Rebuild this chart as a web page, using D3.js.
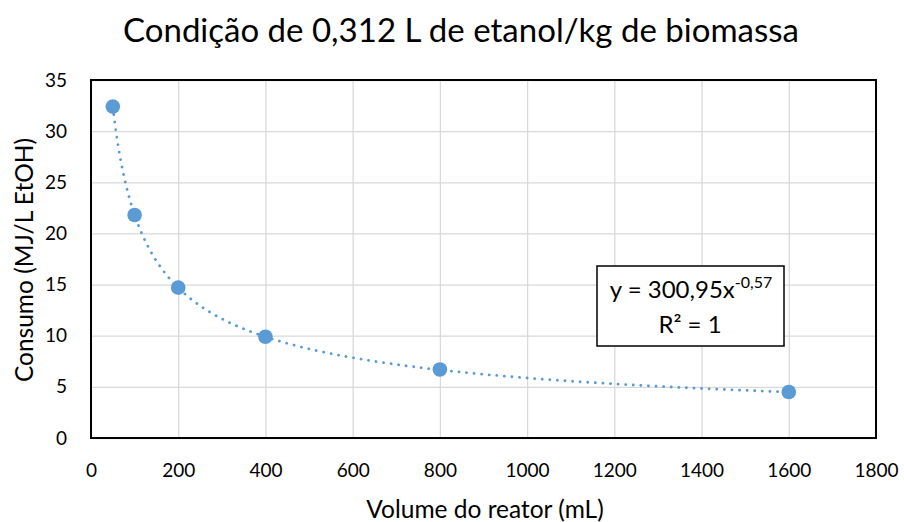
<!DOCTYPE html>
<meta charset="utf-8">
<style>
  body { margin: 0; background: #fff; }
  text { font-family: Lato, "Open Sans", sans-serif; fill: #000; }
</style>
<body>
<div id="chart"></div>
<script src="https://d3js.org/d3.v7.min.js"></script>
<script>
  // data
  var volumes = [50, 100, 200, 400, 800, 1600];
  var consumo = [32.4, 21.8, 14.7, 9.9, 6.7, 4.5];
  var xTicks = [0, 200, 400, 600, 800, 1000, 1200, 1400, 1600, 1800];
  var yTicks = [0, 5, 10, 15, 20, 25, 30, 35];
  // power trendline shown in the label: y = a * x^b
  var trendA = 300.95, trendB = -0.57;

  var W = 904, H = 522;
  var margin = {top: 80, right: 28, bottom: 84, left: 91},
      width = W - margin.left - margin.right,
      height = H - margin.top - margin.bottom;

  var svg = d3.select("#chart").append("svg")
    .attr("width", W).attr("height", H);

  var g = svg.append("g")
    .attr("transform", "translate(" + margin.left + "," + margin.top + ")");

  var x = d3.scaleLinear().domain([0, 1800]).range([0, width]);
  var y = d3.scaleLinear().domain([0, 35]).range([height, 0]);

  // gridlines
  g.append("g")
    .call(d3.axisBottom(x).tickValues(xTicks).tickSize(height).tickFormat(""))
    .call(function(s) {
      s.select(".domain").remove();
      s.selectAll("line").attr("stroke", "#d9d9d9").attr("stroke-width", 1.3);
    });
  g.append("g")
    .call(d3.axisLeft(y).tickValues(yTicks).tickSize(-width).tickFormat(""))
    .call(function(s) {
      s.select(".domain").remove();
      s.selectAll("line").attr("stroke", "#d9d9d9").attr("stroke-width", 1.3);
    });

  // tick labels
  var xAxis = g.append("g")
    .attr("transform", "translate(0," + height + ")")
    .call(d3.axisBottom(x).tickValues(xTicks).tickSize(0).tickPadding(26).tickFormat(d3.format("d")));
  xAxis.select(".domain").remove();
  xAxis.selectAll("text").style("font-size", "19px").style("font-family", "Lato, sans-serif").attr("fill", "#000");

  var yAxis = g.append("g")
    .call(d3.axisLeft(y).tickValues(yTicks).tickSize(0).tickPadding(24));
  yAxis.select(".domain").remove();
  yAxis.selectAll("text").style("font-size", "19px").style("font-family", "Lato, sans-serif").attr("fill", "#000");

  // plot frame
  g.append("rect")
    .attr("width", width).attr("height", height)
    .attr("fill", "none").attr("stroke", "#000").attr("stroke-width", 2);

  // trendline
  var trend = d3.range(volumes[0], volumes[volumes.length - 1] + 1, 5)
    .map(function(v) { return [v, trendA * Math.pow(v, trendB)]; });
  g.append("path")
    .datum(trend)
    .attr("d", d3.line().x(function(d) { return x(d[0]); }).y(function(d) { return y(d[1]); }))
    .attr("fill", "none")
    .attr("stroke", "#5b9bd5")
    .attr("stroke-width", 2.8)
    .attr("stroke-linecap", "round")
    .attr("stroke-dasharray", "0.1 7.5");

  // points
  g.append("g").selectAll("circle")
    .data(volumes)
    .enter().append("circle")
    .attr("cx", function(d) { return x(d); })
    .attr("cy", function(d, i) { return y(consumo[i]); })
    .attr("r", 7.3)
    .attr("fill", "#5b9bd5");

  // equation label
  var lab = svg.append("g");
  lab.append("rect")
    .attr("x", 597).attr("y", 266).attr("width", 187).attr("height", 80)
    .attr("fill", "#fff").attr("stroke", "#000").attr("stroke-width", 1.5);
  var eq = lab.append("text")
    .attr("x", 691).attr("y", 298).attr("text-anchor", "middle")
    .style("font-size", "24px");
  eq.append("tspan").text("y = 300,95x");
  eq.append("tspan").attr("dy", -10).style("font-size", "16px").text("-0,57");
  lab.append("text")
    .attr("x", 690).attr("y", 333).attr("text-anchor", "middle")
    .style("font-size", "24px")
    .text("R² = 1");

  // titles
  svg.append("text")
    .attr("x", 461).attr("y", 42).attr("text-anchor", "middle")
    .style("font-size", "33px")
    .text("Condição de 0,312 L de etanol/kg de biomassa");

  svg.append("text")
    .attr("x", 485).attr("y", 518).attr("text-anchor", "middle")
    .style("font-size", "24.5px")
    .text("Volume do reator (mL)");

  svg.append("text")
    .attr("transform", "translate(33," + 260 + ") rotate(-90)")
    .attr("text-anchor", "middle")
    .style("font-size", "24.5px")
    .text("Consumo (MJ/L EtOH)");
</script>
</body>
